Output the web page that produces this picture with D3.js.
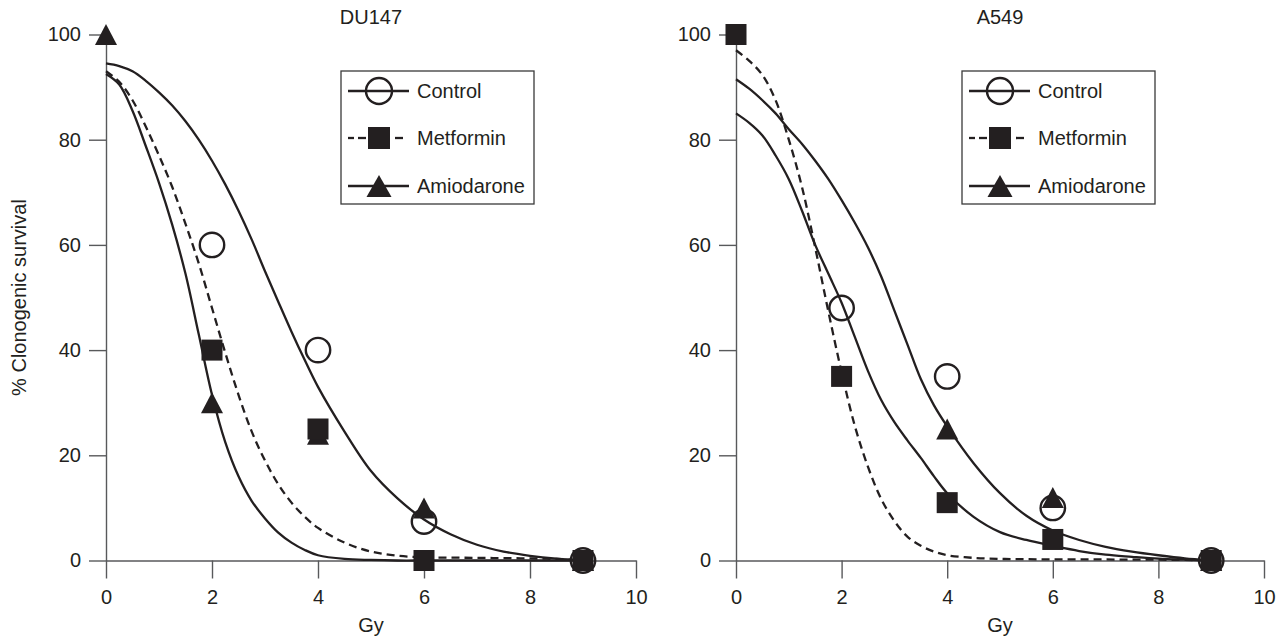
<!DOCTYPE html>
<html><head><meta charset="utf-8">
<script src="https://cdn.jsdelivr.net/npm/d3@7"></script>
<style>body{margin:0;background:#fff}</style>
</head><body><svg id="c" width="1281" height="639"></svg>
<script>
const doses=[0,2,4,6,9];
const panelTitles=["DU147","A549"];
const seriesNames=["Control","Metformin","Amiodarone"];
const xTicks=[0,2,4,6,8,10];
const yTicks=[0,20,40,60,80,100];
// observed points (null = not shown)
const du147Control=[null,60,40,7.4,0];
const du147Metformin=[null,40,25,0,0];
const du147Amiodarone=[100,30,24,10,0];
const a549Control=[null,48,35,10,0];
const a549Metformin=[100,35,11,4,0];
const a549Amiodarone=[null,null,25,12,0];
// fitted curves
const fitX=[0,0.25,0.5,0.75,1,1.25,1.5,1.75,2,2.25,2.5,2.75,3,3.25,3.5,3.75,4,4.5,5,5.5,6,6.5,7,7.5,8,8.5,9];
const du147ControlFit=[94.5,94,93,91.2,89,86.5,83.5,80,76,71.5,66.5,61,55,49.2,43.5,38.1,33,24.5,17,11.8,7.8,5,3,1.7,0.9,0.35,0];
const du147MetforminFit=[93,91,87.5,82.5,77,71,64,56.5,48,39.5,31.5,24.5,19,14.5,11,8.3,6.2,3.4,1.7,0.9,0.6,0.55,0.5,0.45,0.4,0.3,0];
const du147AmiodaroneFit=[92.5,90.5,85.5,78.8,71.8,63.8,54.5,43,31.5,22.5,16,11.3,8,5.3,3.4,2,1,0.3,0.1,0,0,0,0,0,0,0,0];
const a549ControlFit=[91.5,89.7,87.5,85,82,79.2,76,72.5,68.5,64.2,59.5,54,47.5,41,34.5,29.5,25.5,18.5,12.8,8.5,5.7,3.9,2.6,1.7,1,0.4,0];
const a549MetforminFit=[97,95,92.3,87.5,80,71,59.5,47.3,35.8,25.6,17.8,11.7,7.5,4.5,2.8,1.7,1,0.5,0.3,0.25,0.2,0.2,0.2,0.15,0.15,0.1,0];
const a549AmiodaroneFit=[85,83.2,80.8,77,72.5,66.5,60,54.5,49,42.5,36,30.5,26.3,22.8,19.5,16,12.8,8.3,5.4,3.9,2.8,1.8,1.1,0.7,0.35,0.15,0];

const INK="#231f20", AXIS="#58595b", FONT="'Liberation Sans', Arial, Helvetica, sans-serif";
const svg=d3.select("#c");
const y=d3.scaleLinear().domain([0,100]).range([560.5,34.5]);

const panels=[
  {title:panelTitles[0],range:[106,636],legendX:341,ylabel:true,
   obs:[du147Control,du147Metformin,du147Amiodarone],
   fits:[du147ControlFit,du147MetforminFit,du147AmiodaroneFit]},
  {title:panelTitles[1],range:[736,1264],legendX:962,ylabel:false,
   obs:[a549Control,a549Metformin,a549Amiodarone],
   fits:[a549ControlFit,a549MetforminFit,a549AmiodaroneFit]}
];

function tri(w,h){return `M0,${-h/2}L${w/2},${h/2}L${-w/2},${h/2}Z`;}
function marker(g,type,cx,cy,big){
  if(type===0){
    g.append("circle").attr("cx",cx).attr("cy",cy).attr("r",big?13:12.2)
      .attr("fill","none").attr("stroke",INK).attr("stroke-width",2.4);
  }else if(type===1){
    const s=big?22:21;
    g.append("rect").attr("x",cx-s/2).attr("y",cy-s/2).attr("width",s).attr("height",s).attr("fill",INK);
  }else{
    g.append("path").attr("d",big?tri(25,22):tri(22,21)).attr("transform",`translate(${cx},${cy})`).attr("fill",INK);
  }
}

panels.forEach(p=>{
  const x=d3.scaleLinear().domain([0,10]).range(p.range);
  const g=svg.append("g");
  // axes
  const xa=g.append("g").attr("transform",`translate(0,${y(0)})`)
    .call(d3.axisBottom(x).tickValues(xTicks).tickSize(18).tickPadding(11).tickSizeOuter(0));
  const ya=g.append("g").attr("transform",`translate(${x(0)},0)`)
    .call(d3.axisLeft(y).tickValues(yTicks).tickSize(17).tickPadding(8).tickSizeOuter(0));
  [xa,ya].forEach(a=>{
    a.attr("font-size",null).attr("font-family",null);
    a.selectAll("path,line").attr("stroke",AXIS).attr("stroke-width",1.4);
    a.selectAll("text").attr("fill",INK).style("font-size","20px").style("font-family",FONT);
  });
  // curves
  const line=d3.line().x(d=>x(d[0])).y(d=>y(d[1])).curve(d3.curveCatmullRom.alpha(0.5));
  p.fits.forEach((f,i)=>{
    g.append("path").attr("d",line(fitX.map((v,k)=>[v,f[k]])))
      .attr("fill","none").attr("stroke",INK).attr("stroke-width",2.3)
      .attr("stroke-dasharray",i===1?"8,5":null);
  });
  // markers: circles, triangles, squares
  [0,2,1].forEach(si=>{
    p.obs[si].forEach((v,k)=>{ if(v!==null) marker(g,si,x(doses[k]),y(v),false); });
  });
  // title & x label
  const cx=(p.range[0]+p.range[1])/2;
  g.append("text").attr("x",cx).attr("y",24).attr("text-anchor","middle")
    .style("font-size","20px").style("font-family",FONT).attr("fill",INK).text(p.title);
  g.append("text").attr("x",cx).attr("y",632).attr("text-anchor","middle")
    .style("font-size","20px").style("font-family",FONT).attr("fill",INK).text("Gy");
  if(p.ylabel){
    g.append("text").attr("transform","translate(25.5,297.5) rotate(-90)").attr("text-anchor","middle")
      .style("font-size","20px").style("font-family",FONT).attr("fill",INK).text("% Clonogenic survival");
  }
  // legend
  const L=g.append("g").attr("transform",`translate(${p.legendX},71)`);
  L.append("rect").attr("width",193).attr("height",133).attr("fill","#fff").attr("stroke","#3a3a3a").attr("stroke-width",1.3);
  const rows=[20,67,115];
  seriesNames.forEach((nm,i)=>{
    const ry=rows[i];
    const segs=i===1?[[7,13],[17,25],[54,62]]:[[7,68]];
    segs.forEach(s=>L.append("line").attr("x1",s[0]).attr("x2",s[1]).attr("y1",ry).attr("y2",ry)
      .attr("stroke",INK).attr("stroke-width",2.3));
    marker(L,i,38,ry,true);
    L.append("text").attr("x",76).attr("y",ry).attr("dy","0.36em")
      .style("font-size","20px").style("font-family",FONT).attr("fill",INK).text(nm);
  });
});
</script></body></html>
